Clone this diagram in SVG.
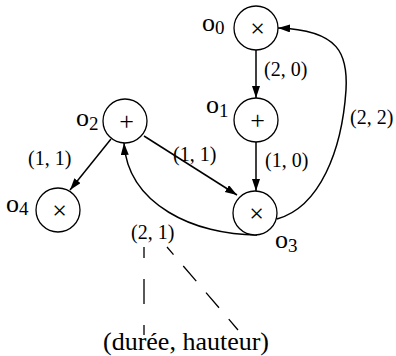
<svg xmlns="http://www.w3.org/2000/svg" width="396" height="356" viewBox="0 0 396 356">
<style>
.node{fill:#fff;stroke:#000;stroke-width:1.3}
.sym{font-family:"Liberation Serif",serif;font-size:26px;text-anchor:middle;fill:#000}
.lbl{font-family:"Liberation Serif",serif;font-size:26px;fill:#000}
.sub{font-size:19px}
.edge{fill:none;stroke:#000;stroke-width:1.5}
.elbl{font-family:"Liberation Serif",serif;font-size:20px;fill:#000}
.dash{fill:none;stroke:#000;stroke-width:1.3}
</style>
<defs>
<marker id="ah" markerUnits="userSpaceOnUse" markerWidth="13" markerHeight="9" refX="12" refY="4" orient="auto">
<path d="M0,0 L12,4 L0,8 z" fill="#000"/>
</marker>
</defs>
<g id="connectors">
<line class="edge" x1="256" y1="50" x2="256" y2="98" marker-end="url(#ah)"/>
<line class="edge" x1="256" y1="142" x2="256" y2="191" marker-end="url(#ah)"/>
<line class="edge" x1="111" y1="139" x2="70" y2="190" marker-end="url(#ah)"/>
<line class="edge" x1="144" y1="136" x2="237" y2="195" marker-end="url(#ah)"/>
<path class="edge" d="M257,235 C195,235 128,205 124,143" marker-end="url(#ah)"/>
<path class="edge" d="M277,219 C320,207 342,150 346,90 C348,55 340,30 278,28" marker-end="url(#ah)"/>
<text class="elbl" x="264" y="76">(2, 0)</text>
<text class="elbl" x="265" y="167">(1, 0)</text>
<text class="elbl" x="350" y="124">(2, 2)</text>
<text class="elbl" x="28" y="165">(1, 1)</text>
<text class="elbl" x="173" y="161">(1, 1)</text>
<text class="elbl" x="131" y="239">(2, 1)</text>
</g>
<g id="o0">
<circle class="node" cx="256" cy="28" r="22"/>
<text class="sym" x="257.5" y="36.5">×</text>
<text class="lbl" x="202" y="31">o<tspan class="sub" dy="3">0</tspan></text>
</g>
<g id="o1">
<circle class="node" cx="256" cy="120" r="22"/>
<text class="sym" x="257.5" y="128.5">+</text>
<text class="lbl" x="206" y="113">o<tspan class="sub" dy="4">1</tspan></text>
</g>
<g id="o2">
<circle class="node" cx="125" cy="121" r="22"/>
<text class="sym" x="126.5" y="129.5">+</text>
<text class="lbl" x="76" y="126">o<tspan class="sub" dy="4">2</tspan></text>
</g>
<g id="o4">
<circle class="node" cx="58" cy="210" r="22"/>
<text class="sym" x="59.5" y="218.5">×</text>
<text class="lbl" x="6" y="212">o<tspan class="sub" dy="3">4</tspan></text>
</g>
<g id="o3">
<circle class="node" cx="255" cy="213" r="22"/>
<text class="sym" x="256.5" y="221.5">×</text>
<text class="lbl" x="275" y="248">o<tspan class="sub" dy="4">3</tspan></text>
</g>
<g id="annotation">
<line class="dash" x1="144" y1="247" x2="144" y2="335" stroke-dasharray="25 21" stroke-dashoffset="14"/>
<line class="dash" x1="167" y1="247" x2="238" y2="330" stroke-dasharray="20 15" stroke-dashoffset="10"/>
<text class="lbl" x="103" y="350">(durée, hauteur)</text>
</g>
</svg>
